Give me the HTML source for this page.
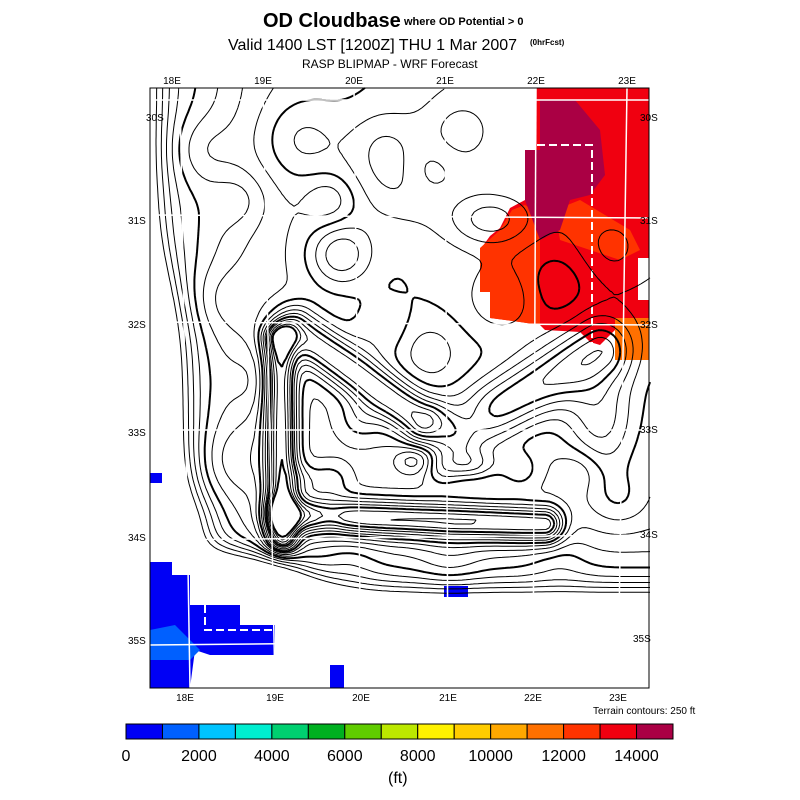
<!DOCTYPE html>
<html><head><meta charset="utf-8"><style>
body{margin:0;background:#fff;width:800px;height:800px;overflow:hidden;font-family:"Liberation Sans",sans-serif}
svg{position:absolute;left:0;top:0}
</style></head><body>
<svg id="c" width="800" height="800" viewBox="0 0 800 800">
<g font-family="Liberation Sans, sans-serif" fill="#000">
<text x="263" y="27" font-size="20" font-weight="bold">OD Cloudbase</text>
<text x="404" y="25" font-size="11" font-weight="bold">where OD Potential &gt; 0</text>
<text x="228" y="50" font-size="16">Valid 1400 LST [1200Z] THU 1 Mar 2007</text>
<text x="530" y="45" font-size="8" font-weight="bold">(0hrFcst)</text>
<text x="302" y="68" font-size="12">RASP BLIPMAP - WRF Forecast</text>
</g>
<g id="fills"></g>
<g id="cont"></g>
<g id="grid"></g>
<rect x="150" y="88" width="499" height="600" fill="none" stroke="#000" stroke-width="1"/>
<g id="labels" font-size="10"></g>
<text x="593" y="714" font-size="10">Terrain contours: 250 ft</text>
<g id="cbar"></g>
<text x="388" y="783" font-size="16">(ft)</text>
</svg>
<script>
const NS="http://www.w3.org/2000/svg";
const cbColors=["#0000f5","#0060ff","#00c4ff","#00eed0","#00d070","#00b020","#60cc00","#bce800","#fff200","#ffcc00","#ffa800","#ff7000","#ff3300","#f00010","#aa0044"];
const cbTicks=[0,2000,4000,6000,8000,10000,12000,14000];
const topLon=["18E","19E","20E","21E","22E","23E"];
const latLabels=["30S","31S","32S","33S","34S","35S"];
function mk(t,a,p){const e=document.createElementNS(NS,t);for(const k in a)e.setAttribute(k,a[k]);(p||document.getElementById('c')).appendChild(e);return e;}
const cb=document.getElementById('cbar');
const x0=126,x1=673,w=(x1-x0)/cbColors.length;
cbColors.forEach((col,i)=>{const r=mk('rect',{x:x0+i*w,y:724,width:w,height:15,fill:col,stroke:'#000','stroke-width':1},cb);

});
cbTicks.forEach((v,i)=>{const t=mk('text',{x:x0+i*2*w,y:761,'font-size':16,'text-anchor':'middle'},cb);t.textContent=v;

});
const F=document.getElementById('fills');
const polys=[
["#f00010","536,88 649,88 649,258 638,258 638,300 649,300 649,330 615,330 600,345 590,342 580,332 545,330 540,325 520,322 490,318 490,292 480,292 480,250 490,236 500,228 510,208 525,200 525,150 536,150"],
["#ff3300","480,248 500,230 512,210 525,205 540,215 540,325 520,322 490,318 490,292 480,292"],
["#ff3300","555,210 580,200 605,215 630,230 640,250 620,260 590,250 560,240"],
["#aa0044","540,100 575,100 600,130 605,175 590,195 570,200 560,230 540,240 525,200 525,150 540,150"],
["#ff7000","615,318 649,318 649,360 615,360"],
["#0000f5","150,562 172,562 172,575 190,575 190,605 240,605 240,625 275,625 275,655 210,655 195,650 190,688 150,688"],
["#0060ff","150,630 175,625 190,640 200,650 190,660 150,660"],
["#0000f5","150,473 162,473 162,483 150,483"],
["#0000f5","330,665 344,665 344,688 330,688"],
["#0000f5","444,586 468,586 468,597 444,597"]];
polys.forEach(p=>{const e=mk('polygon',{points:p[1],fill:p[0]},F);

});
mk('polyline',{points:"525,145 592,145 592,345",fill:'none',stroke:'#fff','stroke-width':2,'stroke-dasharray':'8,4'},F);
mk('polyline',{points:"205,605 205,630 275,630",fill:'none',stroke:'#fff','stroke-width':2,'stroke-dasharray':'8,4'},F);
function sig(v){return 1/(1+Math.exp(-v));}
function g(x,y,cx,cy,sx,sy){return Math.exp(-((x-cx)**2/(2*sx*sx)+(y-cy)**2/(2*sy*sy)));}
function seg(x,y,ax,ay,bx,by,s){const dx=bx-ax,dy=by-ay;let t=((x-ax)*dx+(y-ay)*dy)/(dx*dx+dy*dy);t=Math.max(0,Math.min(1,t));const d2=(x-ax-t*dx)**2+(y-ay-t*dy)**2;return Math.exp(-d2/(2*s*s));}
const bumps=[[200,150,25,1.2],[240,200,20,-1],[300,140,30,1.5],[330,200,18,-1.2],[380,140,25,1],[430,170,20,-1],[460,130,25,1.2],
[220,300,25,1],[250,380,20,-0.8],[230,460,25,1],[380,330,20,1],[430,350,18,-1],[500,300,22,1.2],[560,280,25,-1],[610,250,25,1],
[360,420,15,1.2],[470,420,15,-1],[520,470,14,1.3],[580,470,16,-1],[620,500,20,1],[350,560,20,-0.8],[450,565,22,0.8],[560,560,20,-0.8],
[300,480,12,1.5],[440,470,12,1.2],[330,520,12,-1],[260,560,20,0.8],[200,520,20,-0.8]];
function z(x,y){
const cx=158+28*sig((y-280)/30)+20*sig((y-500)/20);
const cy=548+42*sig((x-300)/25);
const land=sig((x-cx)/9)*sig((cy-y)/8);
let h=4*land-2;
h+=land*(3*sig((x-215)/25)*sig((560-y)/25)+7*seg(x,y,280,340,282,540,11)+5*seg(x,y,295,330,420,420,16)+6*seg(x,y,285,515,545,525,13)
+4*seg(x,y,460,430,600,350,22)+2*sig((x-380)/60)*sig((350-y)/50)+2.5*g(x,y,340,255,22,22)
+2*g(x,y,490,220,28,18)+1.5*g(x,y,400,180,40,30)-2*g(x,y,415,460,14,10)+2*g(x,y,470,465,20,10)
+1.5*g(x,y,330,480,14,12)+2.5*g(x,y,600,420,25,40));
bumps.forEach(b=>{h+=land*b[3]*g(x,y,b[0],b[1],b[2],b[2]);});
return h;}
const C=document.getElementById('cont');
const st=4,X0=150,Y0=88,nx=125,ny=150;const Z=[];
for(let j=0;j<=ny;j++){Z[j]=[];for(let i=0;i<=nx;i++)Z[j][i]=z(X0+i*st,Y0+j*st);}
const levels=[0,0.75,1.5,2.25,3,3.75,4.5,5.25,6,6.75,7.5,8.25,9,9.75,10.5,11.25,12];
levels.forEach((L,li)=>{let d="";
for(let j=0;j<ny;j++)for(let i=0;i<nx;i++){
const a=Z[j][i],b=Z[j][i+1],c=Z[j+1][i+1],e=Z[j+1][i];
const px=X0+i*st,py=Y0+j*st;const pts=[];
function it(v1,v2){return (L-v1)/(v2-v1);}
if((a<L)!=(b<L))pts.push([px+st*it(a,b),py]);
if((b<L)!=(c<L))pts.push([px+st,py+st*it(b,c)]);
if((e<L)!=(c<L))pts.push([px+st*it(e,c),py+st]);
if((a<L)!=(e<L))pts.push([px,py+st*it(a,e)]);
for(let k=0;k+1<pts.length;k+=2)d+="M"+pts[k][0].toFixed(1)+" "+pts[k][1].toFixed(1)+"L"+pts[k+1][0].toFixed(1)+" "+pts[k+1][1].toFixed(1);}
const p=mk('path',{d:d,fill:'none',stroke:'#000','stroke-width':(li%4==0&&li>0)?2:1,'stroke-dasharray':li==0?'7,4':'none'},C);

});
const G=document.getElementById('grid');
[[263,88,275,688],[354,88,361,688],[445,88,448,688],[536,88,533,688],[627,88,618,688],[180,88,190,688],
[150,100,649,100],[150,215,649,218],[150,322,649,325],[150,430,649,430],[150,540,649,535],[150,645,649,640]].forEach(l=>{
const e=mk('line',{x1:l[0],y1:l[1],x2:l[2],y2:l[3],stroke:'#fff','stroke-width':1.5},G);

});
const Lb=document.getElementById('labels');
const topX=[172,263,354,445,536,627],botX=[185,275,361,448,533,618],leftY=[117,220,324,432,537,640],rightY=[117,220,324,429,534,638];
topLon.forEach((s,i)=>{let t=mk('text',{x:topX[i],y:84,'text-anchor':'middle'},Lb);t.textContent=s;

t=mk('text',{x:botX[i],y:701,'text-anchor':'middle'},Lb);t.textContent=s;
});
latLabels.forEach((s,i)=>{let t=mk('text',{x:i==0?146:128,y:leftY[i]+4},Lb);t.textContent=s;

t=mk('text',{x:i==5?633:640,y:rightY[i]+4},Lb);t.textContent=s;
});
</script>
</body></html>
